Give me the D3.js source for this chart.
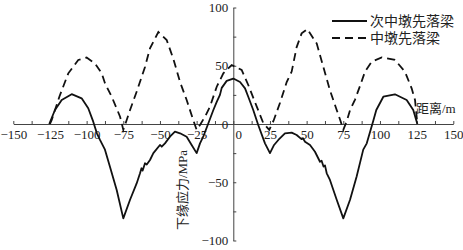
<!DOCTYPE html>
<html>
<head>
<meta charset="utf-8">
<script src="https://cdn.jsdelivr.net/npm/d3@7"></script>
<style>
  body { margin: 0; background: #fff; }
  svg text { font-family: "Liberation Serif", "Noto Sans CJK SC", serif; fill: #222; }
  .axis path, .axis line { stroke: #444; }
</style>
</head>
<body>
<div id="chart"></div>
<script>
// 次中墩先落梁 (solid)
var secondPierFirst = [
  [-125.5, 0], [-121.6, 12], [-117, 20.6], [-110.2, 25.6], [-103.4, 22], [-98.9, 13.5],
  [-95.5, 2], [-93, -8], [-90.9, -13.7], [-87.5, -22], [-84.1, -36.6], [-79.5, -56.6],
  [-75, -81], [-70.4, -65], [-65.9, -51], [-63.6, -42.3], [-62.6, -38], [-61.8, -40],
  [-60.2, -33.7], [-59, -34.8], [-56.8, -30.9], [-54.5, -25], [-50, -18], [-48.8, -19.5],
  [-46.6, -16.6], [-43.2, -10.9], [-39.8, -6.6], [-36.3, -8], [-31.8, -10.9], [-28.4, -18],
  [-25, -25], [-22.7, -16.6], [-20.5, -10.9], [-17, 0.6], [-13.6, 12], [-11.3, 19],
  [-9.1, 25], [-7.9, 31], [-4.5, 37], [0, 39], [4.6, 36], [8, 30.6], [10.2, 23.4],
  [13.6, 12], [17, -0.9], [21.6, -16.6], [25, -25], [27.8, -18], [30.7, -13.7],
  [35.2, -8], [39.8, -7.4], [43.2, -9.4], [46.5, -13], [47.5, -12.2], [48.9, -15.2],
  [52.3, -18], [55.7, -23.8], [59.1, -32.4], [60.2, -31.6], [61.5, -36.5], [62.5, -35.5],
  [63.7, -42.3], [65.9, -48], [70.5, -65], [75, -81], [79.6, -65], [84.1, -45],
  [88.6, -22], [91, -16.6], [95.5, 3], [97.5, 12], [102.3, 23.4], [110.2, 25.5],
  [118.2, 20.6], [122.7, 12], [125.5, 0]
];

// 中墩先落梁 (dashed)
var midPierFirst = [
  [-125, 0], [-123.8, 3.4], [-118.6, 23.4], [-112.5, 43.5], [-105.7, 55], [-100, 57],
  [-94.3, 52], [-89.7, 43.5], [-87.5, 35], [-82.9, 23.4], [-77.2, 6.3], [-75, -5],
  [-72.8, 3], [-70.4, 12], [-65.9, 27.7], [-60.2, 49], [-56.8, 65], [-51.1, 79],
  [-45.4, 72], [-40.9, 56], [-36.3, 36], [-31.8, 20.6], [-27.3, 3.4], [-25, -5],
  [-22.3, 0], [-19, 7], [-15.9, 14.9], [-11.3, 32], [-6.8, 43.5], [-1.1, 50.6],
  [5.7, 46.4], [10.2, 33.5], [16, 14.9], [20.5, 0.6], [24.5, -5], [27.5, 3],
  [31.8, 18], [36.4, 36], [39.8, 45], [43.2, 66], [46.6, 77.8], [50.5, 81.5],
  [56.9, 69], [61.4, 49], [65.9, 29], [70.5, 12], [73, 3], [75, -5], [77.5, 3],
  [79.6, 12], [83, 21], [86.5, 33], [89.8, 45], [94.4, 53.5], [101.2, 57.2],
  [110.2, 55], [117, 45], [121.6, 30.6], [123.9, 20.6], [125.5, 0]
];

var seriesNames = ["次中墩先落梁", "中墩先落梁"];
var xTicks = d3.range(-150, 150.1, 12.5);
var yTicks = d3.range(-100, 100.1, 25);
var xTitle = "距离/m";
var yTitle = "下缘应力/MPa";

var width = 463, height = 250;

var x = d3.scaleLinear()
    .domain([-150, 150])
    .range([13.3, 453.3]);

var y = d3.scaleLinear()
    .domain([-100, 100])
    .range([240.5, 7.5]);

var svg = d3.select("#chart").append("svg")
    .attr("width", width)
    .attr("height", height);

// x axis through zero, ticks pointing up
var xAxis = svg.append("g")
    .attr("class", "axis axis--x")
    .attr("transform", "translate(0," + y(0) + ")")
    .call(d3.axisBottom(x)
        .tickValues(xTicks)
        .tickSizeInner(-3)
        .tickSizeOuter(0)
        .tickPadding(6)
        .tickFormat(function(d) { return d % 25 === 0 ? d3.format("d")(d).replace("-", "\u2212") : ""; }));

xAxis.selectAll("text")
    .attr("font-size", 13)
    .attr("font-family", "Liberation Serif")
    .attr("dx", function(d) { return d === 0 ? 5 : 0; });

// y axis through zero, ticks pointing right
var yAxis = svg.append("g")
    .attr("class", "axis axis--y")
    .attr("transform", "translate(" + x(0) + ",0)")
    .call(d3.axisLeft(y)
        .tickValues(yTicks)
        .tickSizeInner(-3)
        .tickSizeOuter(0)
        .tickPadding(5)
        .tickFormat(function(d) { return d % 50 === 0 ? d3.format("d")(d).replace("-", "\u2212") : ""; }));

yAxis.selectAll("text")
    .attr("font-size", 13)
    .attr("font-family", "Liberation Serif");

svg.selectAll(".axis path").attr("stroke-width", 1);

var line = d3.line()
    .x(function(d) { return x(d[0]); })
    .y(function(d) { return y(d[1]); });

svg.append("path")
    .datum(midPierFirst)
    .attr("fill", "none")
    .attr("stroke", "#111")
    .attr("stroke-width", 1.8)
    .attr("stroke-dasharray", "8,5")
    .attr("d", line);

svg.append("path")
    .datum(secondPierFirst)
    .attr("fill", "none")
    .attr("stroke", "#111")
    .attr("stroke-width", 1.8)
    .attr("stroke-linejoin", "round")
    .attr("d", line);

// axis titles
svg.append("text")
    .attr("x", 416)
    .attr("y", 108)
    .attr("dominant-baseline", "central")
    .attr("font-size", 13)
    .text(xTitle);

svg.append("text")
    .attr("transform", "translate(182,190) rotate(-90)")
    .attr("text-anchor", "middle")
    .attr("dominant-baseline", "central")
    .attr("font-size", 13)
    .text(yTitle);

// legend
var legend = svg.append("g")
    .attr("transform", "translate(332,21)");

legend.selectAll("line")
    .data(seriesNames)
    .enter().append("line")
    .attr("x1", 0)
    .attr("x2", 35)
    .attr("y1", function(d, i) { return i * 17; })
    .attr("y2", function(d, i) { return i * 17; })
    .attr("stroke", "#111")
    .attr("stroke-width", 1.8)
    .attr("stroke-dasharray", function(d, i) { return i ? "8,5" : null; });

legend.selectAll("text")
    .data(seriesNames)
    .enter().append("text")
    .attr("x", 38)
    .attr("y", function(d, i) { return i * 17; })
    .attr("dominant-baseline", "central")
    .attr("font-size", 14)
    .text(function(d) { return d; });
</script>
</body>
</html>
